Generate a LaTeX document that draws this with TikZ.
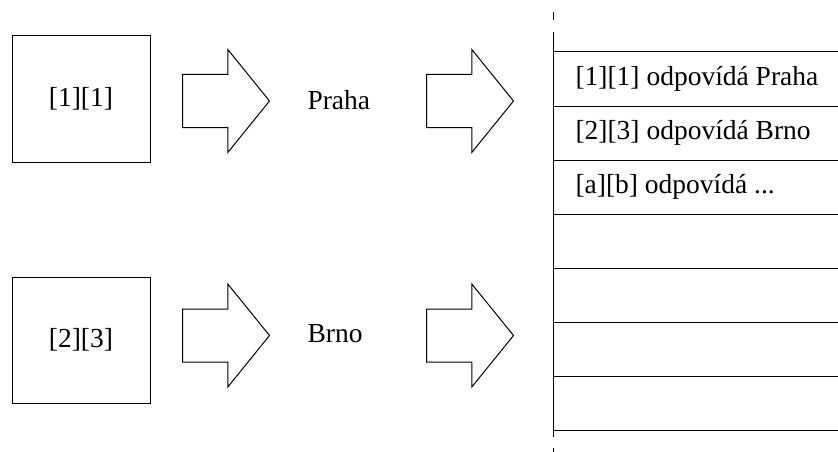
\documentclass[tikz,border=0pt]{standalone}
\usepackage{fontspec}
\setmainfont{Liberation Serif}
\usetikzlibrary{shapes.arrows}

\begin{document}
\begin{tikzpicture}[x=1pt,y=-1pt,line width=1pt,
  every node/.style={font=\rmfamily\fontsize{27.5}{33}\selectfont},
  cell/.style={draw,minimum width=138pt,minimum height=126pt,inner sep=0pt},
  bigarrow/.style={draw,single arrow,anchor=tail,minimum height=87pt,minimum width=102pt,
    single arrow head extend=25pt,single arrow tip angle=102,
    inner xsep=0pt,inner ysep=26pt},
  word/.style={anchor=base west,inner sep=0pt},
  entry/.style={anchor=west,inner sep=0pt}]

\useasboundingbox (0,0) rectangle (838,452);

\node[cell] (A1) at (81,99)  {[1][1]};
\node[cell] (A2) at (81,340) {[2][3]};

\node[bigarrow] (P1) at (182,101)   {};
\node[bigarrow] (P2) at (182,335.5) {};
\node[bigarrow] (Q1) at (426,101)   {};
\node[bigarrow] (Q2) at (426,335.5) {};

\node[word] (city1) at (307,109) {Praha};
\node[word] (city2) at (307,342) {Brno};

% table
\draw (553,12) -- (553,20);
\draw (553,32) -- (553,437);
\draw (553,448) -- (553,452);

\draw (553,52)    -- (838,52);
\draw (553,106.1) -- (838,106.1);
\draw (553,160.2) -- (838,160.2);
\draw (553,214.3) -- (838,214.3);
\draw (553,268.4) -- (838,268.4);
\draw (553,322.5) -- (838,322.5);
\draw (553,376.6) -- (838,376.6);
\draw (553,430.7) -- (838,430.7);

\node[entry] (row1) at (575,79)  {[1][1] odpovídá Praha};
\node[entry] (row2) at (575,133) {[2][3] odpovídá Brno};
\node[entry] (row3) at (575,187) {[a][b] odpovídá ...};

\end{tikzpicture}
\end{document}
